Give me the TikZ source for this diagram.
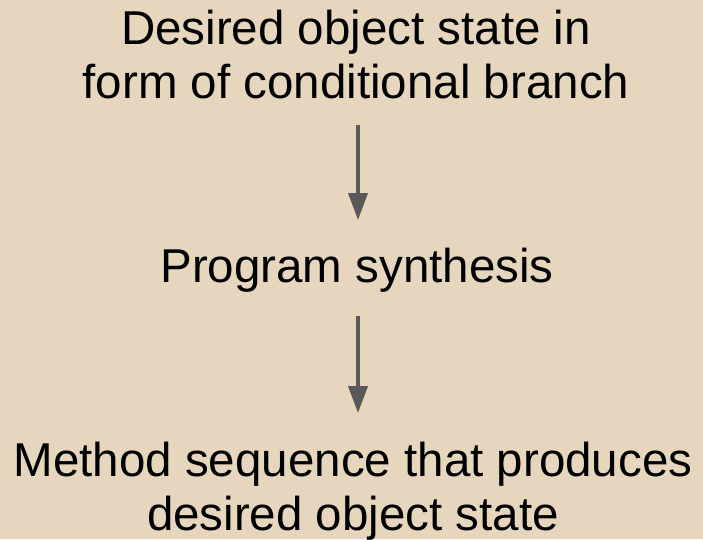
\documentclass[tikz,border=0pt]{standalone}
\usepackage{fontspec}
\setmainfont{Liberation Sans}
\usetikzlibrary{arrows.meta}
\definecolor{paper}{HTML}{E6D6BD}
\definecolor{arrowgray}{HTML}{595959}
\tikzset{
  label text/.style={font=\fontsize{47.5}{54}\selectfont, align=center, inner sep=0pt, text=black},
  flow arrow/.style={draw=arrowgray, line width=4pt, -{Triangle[length=27pt,width=19pt]}}
}
\begin{document}
\begin{tikzpicture}[x=1pt,y=-1pt]
  \fill[paper] (0,0) rectangle (703,539);
  \useasboundingbox (0,0) rectangle (703,539);
  % base anchors sit on the last baseline of each block
  \node[label text, anchor=base] (goal) at (356,98) {Desired object state in\\form of conditional branch};
  \node[label text, anchor=base] (synth) at (357,282) {Program synthesis};
  \node[label text, anchor=base] (result) at (353,530) {Method sequence that produces\\desired object state};
  \draw[flow arrow] ([shift={(2,27)}]goal.base) -- ([shift={(1,-62)}]synth.base);
  \draw[flow arrow] ([shift={(1,34)}]synth.base) -- ([shift={(5,-117)}]result.base);
\end{tikzpicture}
\end{document}
